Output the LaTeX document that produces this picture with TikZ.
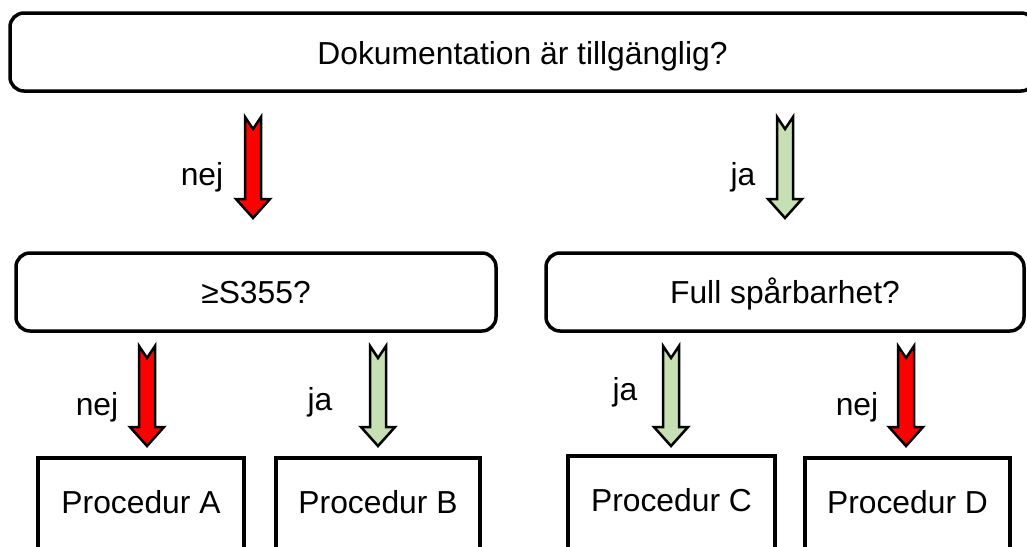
\documentclass[tikz,border=0pt]{standalone}
\usepackage{fontspec}
\setmainfont{Liberation Sans}
\usetikzlibrary{calc}

\definecolor{yesgreen}{RGB}{198,224,180}
\tikzset{
  txt/.style={font=\fontsize{31.8}{38}\selectfont, inner sep=0pt, anchor=base},
  qbox/.style={txt, draw, line width=3.5pt, rounded corners=14pt},
  leaf/.style={txt, draw, line width=3.5pt, text height=55pt, text depth=60pt},
  barrow/.style={draw, line width=2.5pt, line join=miter},
}

% block arrow from a start coordinate (notched tail) down to its tip
\newcommand\blockarrow[3]{%
  \path[barrow, fill=#3] let \p1=(#1), \p2=(#2) in
    (\x1-8pt,\y1) -- (\x1,\y1-12pt) -- (\x1+8pt,\y1) -- (\x1+8pt,\y2+19pt)
    -- (\x1+17pt,\y2+19pt) -- (\x2,\y2) -- (\x1-17pt,\y2+19pt)
    -- (\x1-8pt,\y2+19pt) -- cycle;}

\begin{document}
\begin{tikzpicture}[x=1pt, y=-1pt]
  \useasboundingbox (0,0) rectangle (1027,546);
  \clip (0,0) rectangle (1027,546);

  % decision boxes
  \node[qbox, minimum width=1025pt, text height=51pt, text depth=27pt]
    (q1) at (522.5,64) {Dokumentation är tillgänglig?};
  \node[qbox, minimum width=480pt, text height=50pt, text depth=28pt]
    (q2) at (256,303) {≥S355?};
  \node[qbox, minimum width=478pt, text height=50pt, text depth=28pt]
    (q3) at (785,303) {Full spårbarhet?};

  % outcome boxes
  \node[leaf, minimum width=206pt] (pa) at (141,513) {Procedur A};
  \node[leaf, minimum width=204pt] (pb) at (378,513) {Procedur B};
  \node[leaf, minimum width=207pt] (pc) at (671.5,511) {Procedur C};
  \node[leaf, minimum width=205pt] (pd) at (907.5,513) {Procedur D};

  % arrow ends
  \coordinate (a1s) at (253,117);  \coordinate (a1e) at (253,218);
  \coordinate (a2s) at (785,117);  \coordinate (a2e) at (785,218);
  \coordinate (a3s) at (147,346);  \coordinate (a3e) at (147,446);
  \coordinate (a4s) at (378,346);  \coordinate (a4e) at (378,446);
  \coordinate (a5s) at (671,346);  \coordinate (a5e) at (671,446);
  \coordinate (a6s) at (906,346);  \coordinate (a6e) at (906,446);

  \blockarrow{a1s}{a1e}{red}
  \blockarrow{a2s}{a2e}{yesgreen}
  \blockarrow{a3s}{a3e}{red}
  \blockarrow{a4s}{a4e}{yesgreen}
  \blockarrow{a5s}{a5e}{yesgreen}
  \blockarrow{a6s}{a6e}{red}

  % branch labels
  \node[txt] (l1) at (202,185) {nej};
  \node[txt] (l2) at (743,185) {ja};
  \node[txt] (l3) at (97,415) {nej};
  \node[txt] (l4) at (320,410) {ja};
  \node[txt] (l5) at (625,400) {ja};
  \node[txt] (l6) at (857,415) {nej};
\end{tikzpicture}
\end{document}
